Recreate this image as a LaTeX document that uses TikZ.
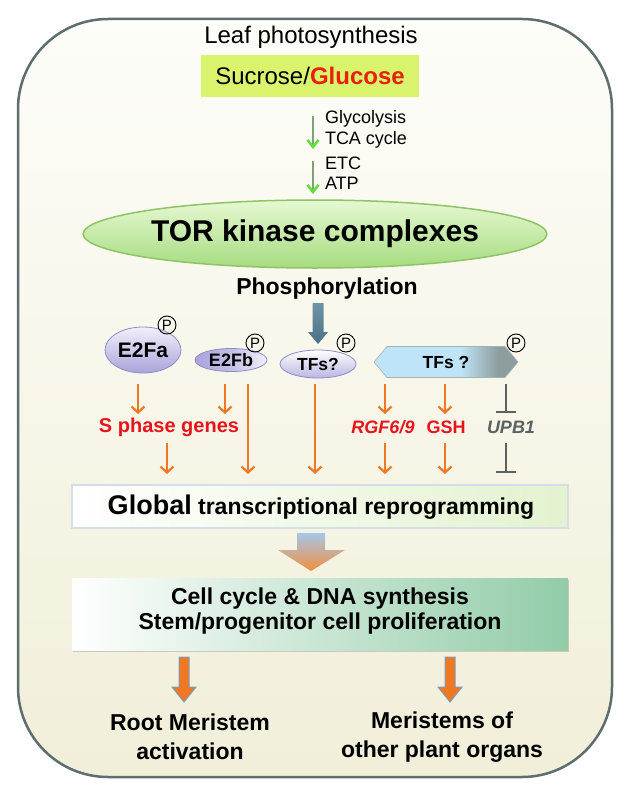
\documentclass[tikz,border=0pt]{standalone}
\usepackage{fontspec}
\setmainfont{Liberation Sans}
\usetikzlibrary{arrows.meta,shapes.geometric,shapes.symbols,shadows}
\definecolor{frame}{HTML}{5E6E6E}
\definecolor{creamT}{HTML}{FDFDF9}
\definecolor{creamB}{HTML}{F1EFD9}
\definecolor{ygreen}{HTML}{DAF36C}
\definecolor{gluc}{HTML}{E8200C}
\definecolor{garrow}{HTML}{5FE03A}
\definecolor{gline}{HTML}{7FA07F}
\definecolor{orng}{HTML}{F07822}
\definecolor{redt}{HTML}{E8141C}
\definecolor{grayt}{HTML}{5A6262}
\definecolor{lavL}{HTML}{F2F0FB}
\definecolor{lavD}{HTML}{A9A3DA}
\definecolor{lavE}{HTML}{8F8ACB}
\definecolor{torT}{HTML}{E6F8D2}
\definecolor{torB}{HTML}{A6DC80}
\definecolor{torE}{HTML}{8EC466}
\definecolor{steelT}{HTML}{6E94AA}
\definecolor{steelB}{HTML}{4A6F85}
\definecolor{tfL}{HTML}{BFE4F8}
\definecolor{tfR}{HTML}{8E9E9E}
\definecolor{cellR}{HTML}{92CCA8}
\definecolor{globR}{HTML}{E3F2CF}
\definecolor{globE}{HTML}{D3DEE8}
\definecolor{bigT}{HTML}{A6C6EA}
\definecolor{bigB}{HTML}{F2903E}
\definecolor{arrE}{HTML}{7E9CBC}
\pgfdeclarehorizontalshading{tfshade}{100bp}{color(0bp)=(tfL); color(25bp)=(tfL); color(55bp)=(tfL); color(68bp)=(tfR); color(75bp)=(tfR); color(100bp)=(tfR)}
\newcommand{\myfs}[1]{\fontsize{#1}{#1}\selectfont}
\begin{document}
\begin{tikzpicture}[x=1pt,y=-1pt,
  every node/.style={inner sep=0pt, outer sep=0pt},
  oarr/.style={draw=orng, line width=2.2pt, -{Straight Barb[length=6pt,width=13pt,line width=2.2pt]}},
  tbar/.style={draw=grayt, line width=1.6pt, -{Bar[width=20pt,line width=1.6pt]}},
  garr/.style={draw=gline, line width=1.2pt, -{Straight Barb[length=7pt,width=11pt,line width=2.6pt,color=garrow]}},
  pcirc/.style={circle, draw=black, line width=0.9pt, minimum size=18pt, font=\myfs{15}},
  lav/.style={ellipse, draw=lavE, line width=0.8pt, top color=lavL, bottom color=lavD, font=\bfseries\myfs{#1}},
  gene/.style={font=\bfseries\myfs{#1}},
  outcome/.style={font=\bfseries\myfs{23}, align=center}
]
\useasboundingbox (0,0) rectangle (633,800);
% outer frame
\draw[frame, line width=2.5pt, rounded corners=90pt, top color=creamT, bottom color=creamB] (18,19) rectangle (612,777);

% top
\node[font=\myfs{24}] (leaf) at (311,37) {Leaf photosynthesis};
\node[fill=ygreen, minimum width=218pt, minimum height=41pt, font=\myfs{24}] (sug) at (310,76) {Sucrose/\textcolor{gluc}{\bfseries Glucose}};
\node[anchor=west, font=\myfs{18}] (gly) at (325,119) {Glycolysis};
\node[anchor=west, font=\myfs{18}] (tca) at (325,140) {TCA cycle};
\node[anchor=west, font=\myfs{18}] (etc) at (325,163) {ETC};
\node[anchor=west, font=\myfs{18}] (atp) at (325,183) {ATP};
\coordinate (g1s) at (313,116);
\coordinate (g1e) at (313,149);
\coordinate (g2s) at (313,161);
\coordinate (g2e) at (313,194);
\draw[garr] (g1s) -- (g1e);
\draw[garr] (g2s) -- (g2e);

% TOR
\node[ellipse, minimum width=424pt, minimum height=68pt, draw=torE, line width=1.5pt, top color=torT, bottom color=torB, font=\bfseries\myfs{30}] (tor) at (315,234) {TOR kinase complexes};
\node[font=\bfseries\myfs{23}] (phos) at (327,289) {Phosphorylation};

% steel arrow
\coordinate (sa) at (318,303);
\shade[top color=steelT, bottom color=steelB] (sa) ++(-5.5,0) -- ++(11,0) -- ++(0,29) -- ++(4.5,0) -- (318,344) -- (308,332) -- ++(4.5,0) -- cycle;

% proteins
\node[lav=21, minimum width=76pt, minimum height=46pt] (e2fa) at (143,350) {E2Fa};
\node[lav=18, minimum width=72pt, minimum height=23pt, left color=lavD, right color=lavL, middle color=lavD!70!white] (e2fb) at (231,360) {E2Fb};
\node[lav=17.5, minimum width=76pt, minimum height=28pt, top color=white, bottom color=lavD!80!white] (tfs1) at (318,364) {TFs?};
\node[signal, signal to=east and west, signal pointer angle=100, minimum width=144pt, minimum height=31pt, draw=tfR!80!white, line width=0.6pt, shade, shading=tfshade, font=\bfseries\myfs{17.5}] (tfs2) at (446,362) {TFs ?};
\node[pcirc] (p1) at (167,325) {P};
\node[pcirc] (p2) at (255,343) {P};
\node[pcirc] (p3) at (346,343) {P};
\node[pcirc] (p4) at (516,343) {P};

% genes
\node[gene=20, text=redt] (sph) at (169,427) {S phase genes};
\node[gene=18, text=redt] (rgf) at (383,427) {\itshape RGF6/9};
\node[gene=18, text=redt] (gsh) at (446,427) {GSH};
\node[gene=18, text=grayt] (upb) at (511,427) {\itshape UPB1};

% arrows
\coordinate (a1s) at (138,384); \coordinate (a1e) at (138,414);
\coordinate (a2s) at (225,384); \coordinate (a2e) at (225,414);
\coordinate (a3s) at (248,384); \coordinate (a3e) at (248,474);
\coordinate (a4s) at (167,443); \coordinate (a4e) at (167,474);
\coordinate (a5s) at (315,384); \coordinate (a5e) at (315,474);
\coordinate (a6s) at (385,384); \coordinate (a6e) at (385,414);
\coordinate (a7s) at (385,443); \coordinate (a7e) at (385,474);
\coordinate (a8s) at (445,384); \coordinate (a8e) at (445,414);
\coordinate (a9s) at (445,443); \coordinate (a9e) at (445,474);
\coordinate (t1s) at (506,384); \coordinate (t1e) at (506,413);
\coordinate (t2s) at (506,443); \coordinate (t2e) at (506,473);
\foreach \s/\e in {a1s/a1e,a2s/a2e,a3s/a3e,a4s/a4e,a5s/a5e,a6s/a6e,a7s/a7e,a8s/a8e,a9s/a9e}
  \draw[oarr] (\s) -- (\e);
\draw[tbar] (t1s) -- (t1e);
\draw[tbar] (t2s) -- (t2e);

% global box
\node[draw=globE, line width=1.5pt, minimum width=496pt, minimum height=43pt, left color=white, middle color=white, right color=globR] (glob) at (320,506.5) {};
\node[font=\bfseries] (globt) at (321,507) {\myfs{27}Global\myfs{23} transcriptional reprogramming};

% big arrow
\coordinate (ba) at (311,533);
\shade[top color=bigT, bottom color=bigB] (ba) ++(-14,0) -- ++(28,0) -- ++(0,17) -- ++(20,0) -- (311,571) -- (278,550) -- ++(19,0) -- cycle;

% cell box
\node[minimum width=496pt, minimum height=72pt, left color=white, right color=cellR, drop shadow={opacity=0.35, shadow xshift=1pt, shadow yshift=-2pt}] (cell) at (320,614) {};
\node[font=\bfseries\myfs{23}, align=center] (cellt) at (320,611) {Cell cycle \& DNA synthesis\\[2pt] Stem/progenitor cell proliferation};

% bottom arrows
\coordinate (b1) at (184,657);
\coordinate (b2) at (450,657);
\foreach \c in {b1,b2}
  \draw[draw=arrE, line width=1pt, fill=orng] (\c) ++(-5,0) -- ++(10,0) -- ++(0,30) -- ++(7,0) -- ++(-12,15) -- ++(-12,-15) -- ++(7,0) -- cycle;

\node[outcome] (root) at (190,737) {Root Meristem\\[6pt]activation};
\node[outcome] (other) at (442,737) {Meristems of\\[6pt]other plant organs};
\end{tikzpicture}
\end{document}
